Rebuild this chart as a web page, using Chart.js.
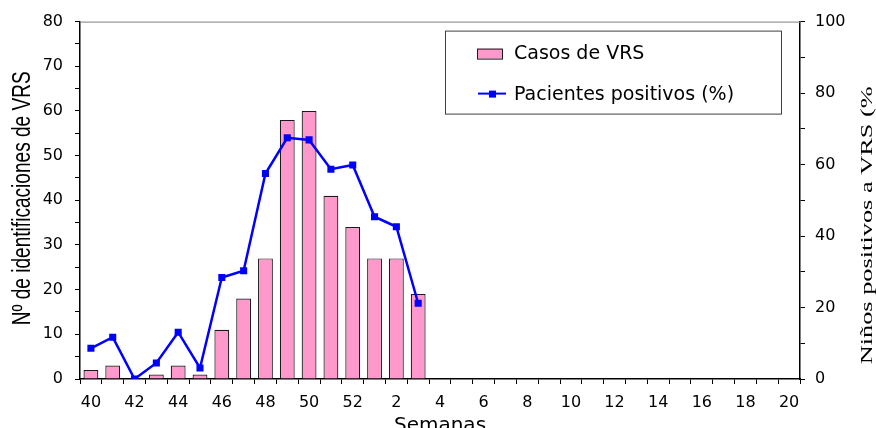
<!DOCTYPE html>
<html>
<head>
<meta charset="utf-8">
<script src="https://cdn.jsdelivr.net/npm/chart.js@4"></script>
<style>
  html, body { margin: 0; padding: 0; background: #fff; }
</style>
</head>
<body>
<canvas id="vrsChart" width="876" height="428"></canvas>
<script>
// Semanas epidemiologicas (40-52 de un año, 1-20 del siguiente)
const semanas = ['40','41','42','43','44','45','46','47','48','49','50','51','52',
  '1','2','3','4','5','6','7','8','9','10','11','12','13','14','15','16','17','18','19','20'];
// Nº de identificaciones de VRS por semana
const casosVRS = [2, 3, 0, 1, 3, 1, 11, 18, 27, 58, 60, 41, 34, 27, 27, 19];
// Niños positivos a VRS (%)
const pacientesPct = [8.6, 11.7, 0, 4.5, 13.1, 3.1, 28.4, 30.3, 57.5, 67.5, 66.9, 58.7, 59.9, 45.4, 42.6, 21.2];

const tickFont = { family: 'DejaVu Sans', size: 16 };

// dibuja texto rotado y estirado a lo largo de la linea base (como en el original)
function drawScaledText(ctx, text, x, y, font, length, angle) {
  ctx.save();
  ctx.font = font;
  const w = ctx.measureText(text).width;
  ctx.translate(x, y);
  ctx.rotate(angle);
  ctx.scale(length / w, 1);
  ctx.textAlign = 'center';
  ctx.textBaseline = 'middle';
  ctx.fillStyle = '#000';
  ctx.fillText(text, 0, 0);
  ctx.restore();
}

const extrasPlugin = {
  id: 'extras',
  afterDraw(chart) {
    const ctx = chart.ctx;
    const a = chart.chartArea;
    const midY = (a.top + a.bottom) / 2;

    // borde superior del area de trazado
    ctx.save();
    ctx.strokeStyle = '#808080';
    ctx.lineWidth = 1;
    ctx.beginPath();
    ctx.moveTo(a.left, a.top + 0.5);
    ctx.lineTo(a.right, a.top + 0.5);
    ctx.stroke();
    ctx.restore();

    // titulos de ejes
    drawScaledText(ctx, 'Nº de identificaciones de VRS', a.left - 57, midY - 2,
      '25px "Liberation Sans"', 254, -Math.PI / 2);
    drawScaledText(ctx, 'Niños positivos a VRS (%', a.right + 68, midY + 25,
      '17px "Liberation Serif"', 278, -Math.PI / 2);

    ctx.save();
    ctx.font = '20px "DejaVu Sans"';
    ctx.fillStyle = '#000';
    ctx.textAlign = 'center';
    ctx.textBaseline = 'alphabetic';
    ctx.fillText('Semanas', (a.left + a.right) / 2, a.bottom + 52);
    ctx.restore();

    // leyenda con recuadro
    const bars = chart.data.datasets[0];
    const line = chart.data.datasets[1];
    const bx = a.left + 365, by = a.top + 9;
    ctx.save();
    ctx.fillStyle = '#fff';
    ctx.fillRect(bx, by, 336, 83);
    ctx.strokeStyle = '#404040';
    ctx.lineWidth = 1;
    ctx.strokeRect(bx + 0.5, by + 0.5, 336, 83);

    ctx.fillStyle = bars.backgroundColor;
    ctx.fillRect(bx + 32, by + 18, 25, 10);
    ctx.strokeStyle = bars.borderColor;
    ctx.strokeRect(bx + 32.5, by + 18.5, 25, 10);

    ctx.strokeStyle = line.borderColor;
    ctx.lineWidth = 2;
    ctx.beginPath();
    ctx.moveTo(bx + 33, by + 63);
    ctx.lineTo(bx + 61, by + 63);
    ctx.stroke();
    ctx.fillStyle = line.borderColor;
    ctx.fillRect(bx + 44, by + 60, 7, 7);

    ctx.fillStyle = '#000';
    ctx.font = '19px "DejaVu Sans"';
    ctx.textBaseline = 'middle';
    ctx.textAlign = 'left';
    ctx.fillText(bars.label, bx + 69, by + 23);
    ctx.fillText(line.label, bx + 69, by + 64);
    ctx.restore();
  }
};

new Chart(document.getElementById('vrsChart'), {
  type: 'bar',
  data: {
    labels: semanas,
    datasets: [
      {
        label: 'Casos de VRS',
        data: casosVRS,
        yAxisID: 'y',
        backgroundColor: '#FF99CC',
        borderColor: '#1a1a1a',
        borderWidth: 1.2,
        categoryPercentage: 1,
        barPercentage: 0.68,
        order: 1
      },
      {
        type: 'line',
        label: 'Pacientes positivos (%)',
        data: pacientesPct,
        yAxisID: 'y1',
        borderColor: '#0000FF',
        backgroundColor: '#0000FF',
        borderWidth: 2.5,
        pointStyle: 'rect',
        pointRadius: 5,
        pointBorderWidth: 0,
        tension: 0,
        order: 0
      }
    ]
  },
  options: {
    responsive: false,
    animation: false,
    layout: { padding: { top: 19, left: 0, right: 0, bottom: 0 } },
    plugins: {
      legend: { display: false },
      tooltip: { enabled: false }
    },
    scales: {
      x: {
        grid: { display: true, drawOnChartArea: false, tickLength: 5, color: '#000', offset: true },
        border: { color: '#000', width: 1.5 },
        ticks: {
          autoSkip: false,
          maxRotation: 0,
          padding: 9,
          color: '#000',
          font: tickFont,
          callback: (v, i) => (i % 2 === 0 ? semanas[i] : '')
        },
        afterFit: (s) => { s.height = 49; }
      },
      y: {
        position: 'left',
        min: 0,
        max: 80,
        grid: { display: true, drawOnChartArea: false, tickLength: 5, color: '#000' },
        border: { color: '#000', width: 1.5 },
        ticks: {
          stepSize: 5,
          padding: 12,
          color: '#000',
          font: tickFont,
          callback: (v) => (v % 10 === 0 ? v : '')
        },
        afterFit: (s) => { s.width = 80; }
      },
      y1: {
        position: 'right',
        min: 0,
        max: 100,
        grid: { display: true, drawOnChartArea: false, tickLength: 5, color: '#000' },
        border: { color: '#000', width: 1.5 },
        ticks: {
          stepSize: 10,
          padding: 10,
          color: '#000',
          font: tickFont,
          callback: (v) => (v % 20 === 0 ? v : '')
        },
        afterFit: (s) => { s.width = 76; }
      }
    }
  },
  plugins: [extrasPlugin]
});
</script>
</body>
</html>
